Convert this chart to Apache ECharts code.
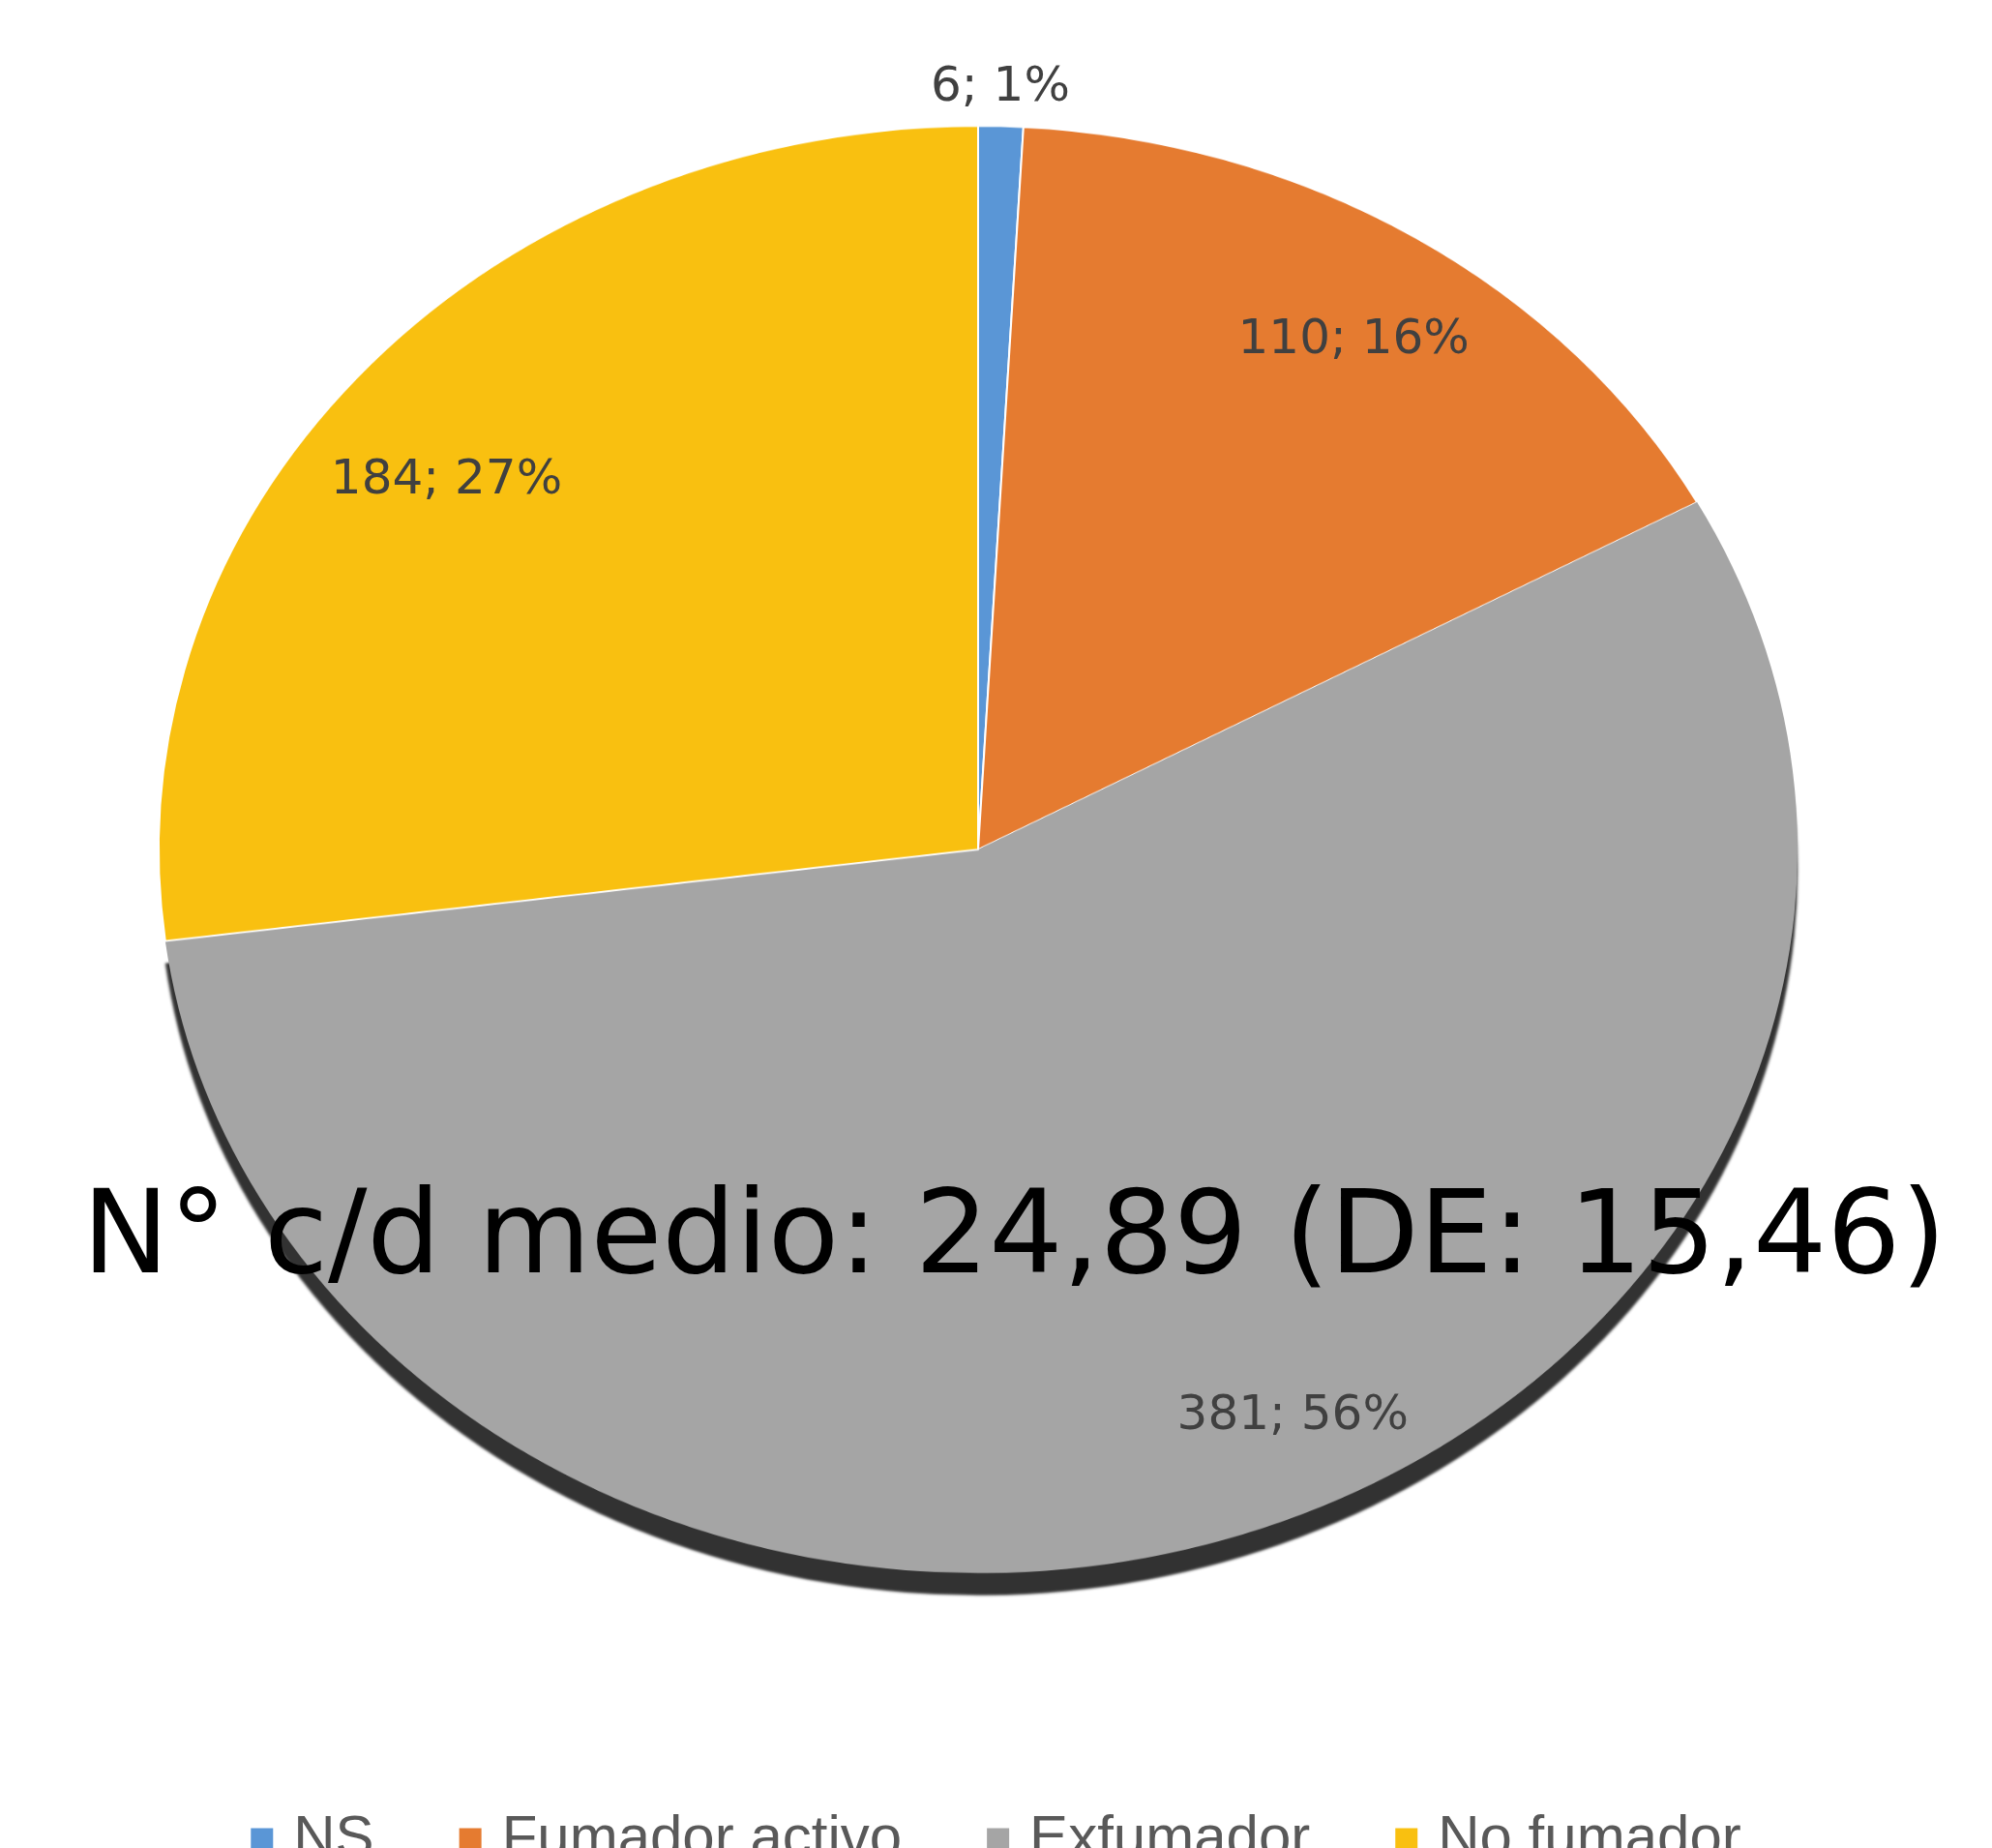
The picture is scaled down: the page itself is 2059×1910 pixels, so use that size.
<!DOCTYPE html>
<html>
<head>
<meta charset="utf-8">
<script src="https://cdn.jsdelivr.net/npm/echarts@6/dist/echarts.min.js"></script>
<style>
html,body{margin:0;padding:0;background:#ffffff;}
#wrap{position:relative;width:2059px;height:1910px;overflow:hidden;background:#fff;}
#pie{position:absolute;left:0;top:0;width:2059px;height:2200px;transform:scaleY(0.883);transform-origin:0 0;}
#over{position:absolute;left:0;top:0;width:2059px;height:1910px;}
</style>
</head>
<body>
<div id="wrap"><div id="pie"></div><div id="over"></div></div>
<script>
// ---- data ----
const categories = ['NS', 'Fumador activo', 'Exfumador', 'No fumador'];
const counts = [6, 110, 381, 184];
const colors = ['#5A96D6', '#E57B30', '#A5A5A5', '#F9C010'];
const annotation = 'N° c/d medio: 24,89 (DE: 15,46)';

// ---- layout constants (ellipse look via vertical scale) ----
const K = 0.883;      // vertical squash of the pie
const CX = 1011, CY = 878, R = 847;

// Chart A: the pie itself, drawn circular then squashed with CSS
const pieChart = echarts.init(document.getElementById('pie'), null, {renderer: 'canvas'});
pieChart.setOption({
  animation: false,
  series: [{
    type: 'pie',
    center: [CX, CY / K],
    radius: R,
    startAngle: 90,
    clockwise: true,
    silent: true,
    label: {show: false},
    labelLine: {show: false},
    itemStyle: {borderColor: '#ffffff', borderWidth: 2},
    data: categories.map((n, i) => ({
      name: n,
      value: counts[i],
      itemStyle: i === 2
        ? {color: colors[i], borderWidth: 0, shadowColor: 'rgba(50,50,50,1)', shadowOffsetY: 26, shadowBlur: 3}
        : {color: colors[i]}
    }))
  }]
});

// Chart B: labels, legend and annotation on top
const over = echarts.init(document.getElementById('over'), null, {renderer: 'canvas'});
over.setOption({
  animation: false,
  legend: {
    data: categories.map((n, i) => ({name: n, itemStyle: {color: colors[i], opacity: 1}})),
    top: 1866,
    left: 'center',
    icon: 'rect',
    itemWidth: 23,
    itemHeight: 23,
    itemGap: 88,
    selectedMode: false,
    textStyle: {fontFamily: 'Liberation Sans', fontSize: 60, color: '#595959', padding: [0, 0, 0, 16], lineHeight: 58}
  },
  graphic: [{
    type: 'text',
    x: 85,
    y: 1284,
    z: 100,
    style: {
      text: annotation,
      font: '120px "DejaVu Sans"',
      fill: '#000000',
      align: 'left',
      verticalAlign: 'middle'
    }
  }],
  series: [{
    type: 'pie',
    center: [CX, CY],
    radius: [542, R],
    startAngle: 90,
    clockwise: true,
    silent: true,
    avoidLabelOverlap: false,
    percentPrecision: 0,
    itemStyle: {color: 'rgba(0,0,0,0)', borderWidth: 0},
    label: {
      show: true,
      position: 'inside',
      formatter: '{c}; {d}%',
      fontFamily: 'DejaVu Sans',
      fontSize: 50,
      color: '#404040'
    },
    labelLine: {show: false},
    labelLayout: function (p) {
      const r = p.labelRect;
      let x = r.x + r.width / 2;
      let y = r.y + r.height / 2;
      y = CY + (y - CY) * K;
      if (p.dataIndex === 0) { x = x - r.width / 2 - 6; y -= 22; }
      if (p.dataIndex === 1) { x += 16; y -= 5; }
      if (p.dataIndex === 2) { x += 110; }
      if (p.dataIndex === 3) { x -= 26; y += 26; }
      return {x: x, y: y, align: 'center', verticalAlign: 'middle'};
    },
    data: categories.map((n, i) => (i === 0
      ? {name: n, value: counts[i], label: {position: 'outside'}, labelLine: {show: false, length: 20, length2: 0}}
      : {name: n, value: counts[i]}))
  }]
});
</script>
</body>
</html>
